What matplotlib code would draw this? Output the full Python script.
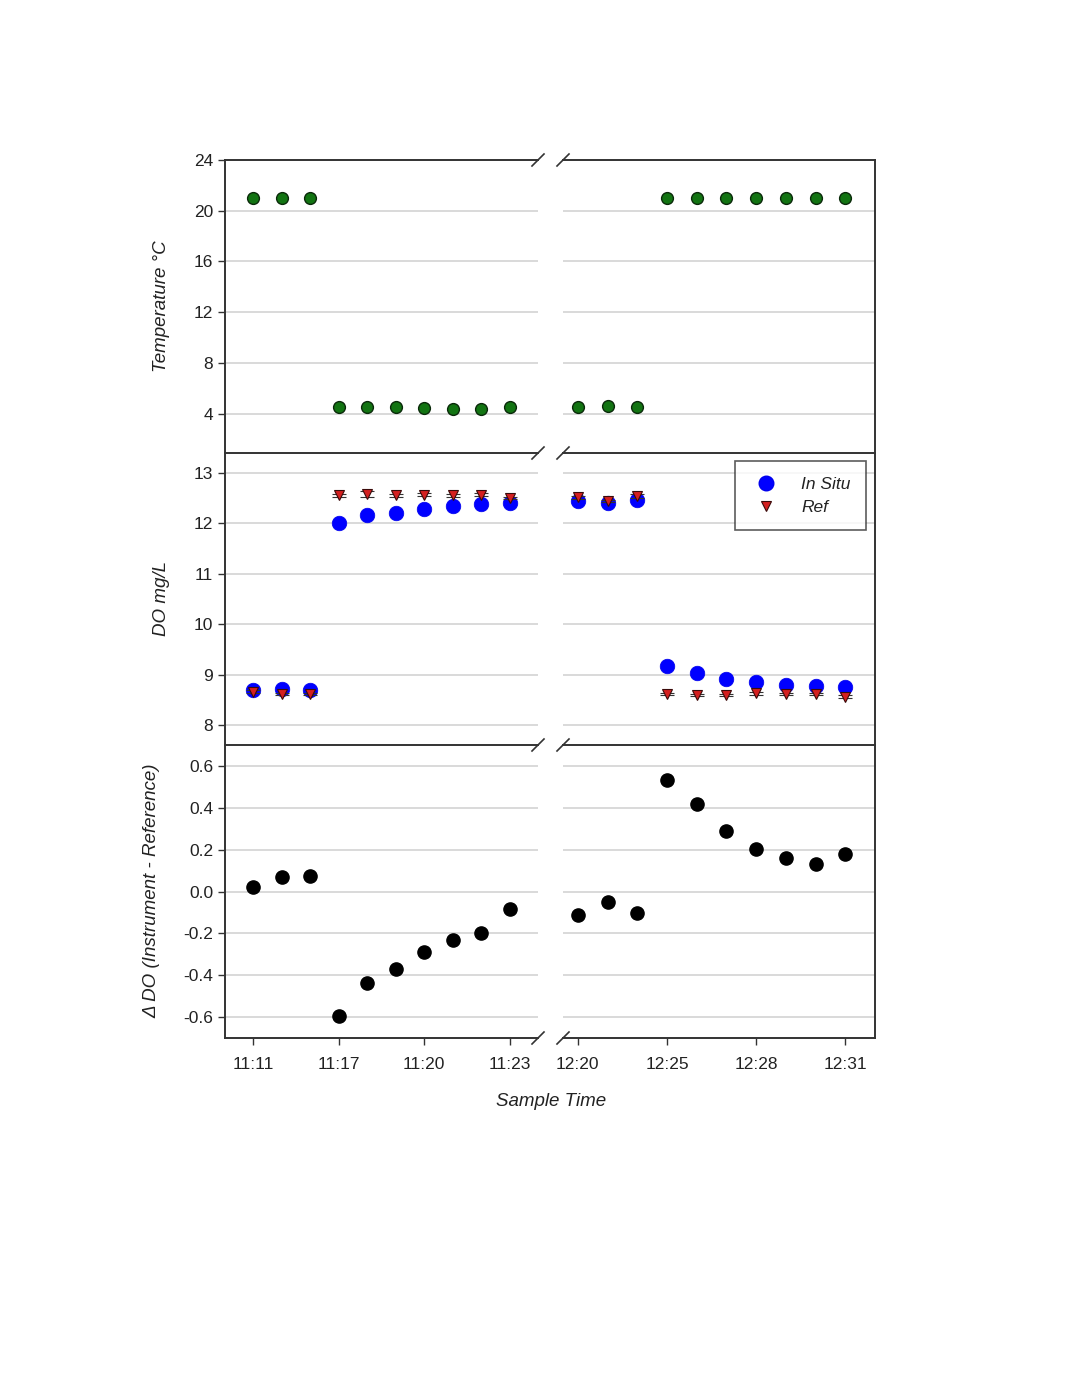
import numpy as np
import matplotlib
matplotlib.use("Agg")
import matplotlib.pyplot as plt
from matplotlib.lines import Line2D

plt.rcParams['font.family'] = ['Liberation Sans', 'DejaVu Sans']

# sample labels (evenly spaced samples, label every third)
left_ticks = ['11:11', '11:17', '11:20', '11:23']
right_ticks = ['12:20', '12:25', '12:28', '12:31']

# temperature, deg C
temp_left = [21.0, 21.0, 21.0, 4.5, 4.5, 4.5, 4.45, 4.4, 4.4, 4.5]
temp_right = [4.5, 4.6, 4.5, 21.0, 21.0, 21.0, 21.0, 21.0, 21.0, 21.0]

# dissolved oxygen, mg/L
insitu_left = [8.70, 8.71, 8.70, 12.00, 12.17, 12.20, 12.29, 12.34, 12.38, 12.41]
insitu_right = [12.44, 12.41, 12.47, 9.16, 9.04, 8.92, 8.85, 8.80, 8.78, 8.76]
ref_left = [8.66, 8.62, 8.61, 12.56, 12.59, 12.56, 12.57, 12.56, 12.57, 12.50]
ref_right = [12.52, 12.45, 12.54, 8.61, 8.59, 8.60, 8.63, 8.62, 8.62, 8.56]
ref_sd_left = [0.03, 0.02, 0.02, 0.03, 0.06, 0.03, 0.03, 0.03, 0.03, 0.02]
ref_sd_right = [0.03, 0.02, 0.04, 0.02, 0.02, 0.02, 0.03, 0.02, 0.02, 0.03]

# difference instrument - reference
diff_left = [0.02, 0.067, 0.072, -0.593, -0.435, -0.368, -0.287, -0.234, -0.20, -0.086]
diff_right = [-0.11, -0.05, -0.105, 0.532, 0.416, 0.289, 0.205, 0.158, 0.133, 0.179]

W, H = 1071, 1386
fig = plt.figure(figsize=(W / 100, H / 100), dpi=100)


def px_axes(x0, y0, x1, y1):
    return fig.add_axes([x0 / W, 1 - y1 / H, (x1 - x0) / W, (y1 - y0) / H])


rows = [(160, 453), (453, 745), (745, 1038)]
xl0, xl1 = 225, 538
xr0, xr1 = 563, 875
spine_c = '#333333'
grid_c = '#d3d3d3'
text_c = '#222222'

axes = []
for (y0, y1) in rows:
    axL = px_axes(xl0, y0, xl1, y1)
    axR = px_axes(xr0, y0, xr1, y1)
    axes.append((axL, axR))

idx = np.arange(10)

# temperature
axL, axR = axes[0]
for ax, t in [(axL, temp_left), (axR, temp_right)]:
    ax.plot(idx, t, 'o', ms=8.5, mfc='#127412', mec='#0a2a0a', mew=1.0, zorder=3)
    ax.set_ylim(0.9, 24)
    ax.set_yticks([4, 8, 12, 16, 20, 24])

# DO
axL, axR = axes[1]
for ax, ins, rf, sd in [(axL, insitu_left, ref_left, ref_sd_left),
                        (axR, insitu_right, ref_right, ref_sd_right)]:
    ax.plot(idx, ins, 'o', ms=10.5, mfc='#0000ff', mec='#0000ee', mew=0.5, zorder=3)
    ax.errorbar(idx, rf, yerr=sd, fmt='v', ms=7.5, mfc='#d42020', mec='#3a0a0a',
                mew=0.8, ecolor='#333333', elinewidth=0.8, capsize=5, capthick=1.2,
                zorder=4)
    ax.set_ylim(7.6, 13.4)
    ax.set_yticks([8, 9, 10, 11, 12, 13])

# difference
axL, axR = axes[2]
for ax, d in [(axL, diff_left), (axR, diff_right)]:
    ax.plot(idx, d, 'o', ms=9.5, mfc='black', mec='black', zorder=3)
    ax.set_ylim(-0.7, 0.7)
    ax.set_yticks([-0.6, -0.4, -0.2, 0.0, 0.2, 0.4, 0.6])
axL.set_yticklabels(['%.1f' % v for v in [-0.6, -0.4, -0.2, 0.0, 0.2, 0.4, 0.6]])

for i, (axL, axR) in enumerate(axes):
    axL.set_xlim(-1.0, 10.0)
    axR.set_xlim(-0.5, 10.0)
    for ax in (axL, axR):
        ax.grid(axis='y', color=grid_c, lw=1.2)
        ax.set_axisbelow(True)
        for s in ax.spines.values():
            s.set_color(spine_c)
            s.set_linewidth(1.4)
        ax.spines['bottom'].set_visible(i == 2)
        ax.tick_params(axis='both', direction='out', length=5, width=1,
                       color=spine_c, labelsize=12.5, labelcolor=text_c)
        ax.tick_params(axis='x', pad=9)
    axL.spines['right'].set_visible(False)
    axR.spines['left'].set_visible(False)
    axR.tick_params(axis='y', left=False, labelleft=False)
    if i == 2:
        axL.set_xticks([0, 3, 6, 9])
        axL.set_xticklabels(left_ticks)
        axR.set_xticks([0, 3, 6, 9])
        axR.set_xticklabels(right_ticks)
    else:
        axL.set_xticks([])
        axR.set_xticks([])

# break marks
for yb in [160, 453, 745, 1038]:
    for xb in [xl1, xr0]:
        fig.add_artist(Line2D([(xb - 6) / W, (xb + 6) / W],
                              [1 - (yb + 6) / H, 1 - (yb - 6) / H],
                              color=spine_c, lw=1.2))

# legend
handles = [Line2D([], [], ls='', marker='o', ms=10.5, mfc='#0000ff', mec='#0000ee'),
           Line2D([], [], ls='', marker='v', ms=7.5, mfc='#d42020', mec='#3a0a0a', mew=0.8)]
leg = axes[1][1].legend(handles, ['In Situ', 'Ref'], loc='upper right',
                        bbox_to_anchor=(866 / W, 1 - 461 / H),
                        bbox_transform=fig.transFigure, frameon=True, fancybox=False,
                        prop={'style': 'italic', 'size': 12.5}, handletextpad=1.1,
                        handlelength=1.8, borderpad=0.9, labelspacing=0.45,
                        borderaxespad=0)
leg.get_frame().set_edgecolor('#333333')
leg.get_frame().set_linewidth(1.2)
for t in leg.get_texts():
    t.set_color(text_c)

# axis labels
fig.text(162 / W, 1 - 306 / H, 'Temperature °C', rotation=90, ha='center', va='center',
         fontsize=13.5, style='italic', color=text_c)
fig.text(162 / W, 1 - 598 / H, 'DO mg/L', rotation=90, ha='center', va='center',
         fontsize=13.5, style='italic', color=text_c)
fig.text(152 / W, 1 - 891 / H, 'Δ DO (Instrument - Reference)', rotation=90,
         ha='center', va='center', fontsize=13.5, style='italic', color=text_c)
fig.text(551 / W, 1 - 1101 / H, 'Sample Time', ha='center', va='center',
         fontsize=13.5, style='italic', color=text_c)

fig.savefig('out.png', dpi=100)
